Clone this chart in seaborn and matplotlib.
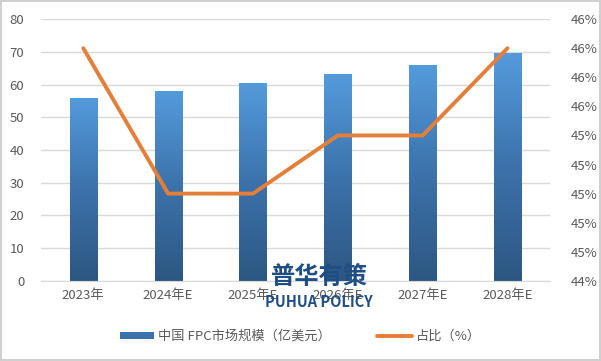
import numpy as np
import matplotlib
matplotlib.use("Agg")
import matplotlib.pyplot as plt
import seaborn as sns
from matplotlib.colors import LinearSegmentedColormap
from matplotlib.patches import Patch
from matplotlib.lines import Line2D

# data
years = ["2023年", "2024年E", "2025年E", "2026年E", "2027年E", "2028年E"]
market_size = [56.0, 58.0, 60.5, 63.2, 66.0, 69.6]   # 亿美元
share = [46.0, 45.0, 45.0, 45.4, 45.4, 46.0]         # %

sns.set_style("white")
plt.rcParams['font.family'] = ['Noto Sans CJK SC', 'DejaVu Sans']

text_gray = "#595959"
grid_gray = "#D9D9D9"
orange = "#E47F3A"

fig = plt.figure(figsize=(6.01, 3.61), dpi=100)
fig.patch.set_edgecolor("#D0D0D0")
fig.patch.set_linewidth(1.5)
ax = fig.add_axes([0.068, 0.222, 0.847, 0.725])

sns.barplot(x=years, y=market_size, ax=ax, width=0.32, color="#4A88C8", zorder=2)

# gradient fill for bars
cmap = LinearSegmentedColormap.from_list("bar", ["#2D5782", "#3C72AB", "#549BDC"])
grad = np.linspace(0, 1, 256).reshape(-1, 1)
for p in ax.patches:
    x0, y0 = p.get_x(), p.get_y()
    w, h = p.get_width(), p.get_height()
    p.set_facecolor("none")
    p.set_edgecolor("none")
    im = ax.imshow(grad, extent=[x0, x0 + w, y0, y0 + h], origin="lower",
                   aspect="auto", cmap=cmap, zorder=2)
    im.set_clip_path(p)

ax.set_xlim(-0.5, 5.5)
ax.set_ylim(0, 80)
ax.set_yticks(range(0, 81, 10))
ax.yaxis.grid(True, color=grid_gray, linewidth=1)
ax.set_axisbelow(True)
for s in ["top", "left", "right"]:
    ax.spines[s].set_visible(False)
ax.spines["bottom"].set_color(grid_gray)
ax.tick_params(axis="both", length=0, labelsize=9.5, colors=text_gray, pad=6)
ax.tick_params(axis="y", pad=12)
ax.set_xlabel("")
ax.set_ylabel("")

ax2 = ax.twinx()
sns.lineplot(x=np.arange(len(years)), y=share, ax=ax2, color=orange,
             linewidth=2.8, zorder=3)
ax2.set_ylim(44.4, 46.2)
ax2.set_yticks(np.arange(44.4, 46.21, 0.2))
ax2.set_yticklabels([f"{v:.0f}%" for v in np.arange(44.4, 46.21, 0.2)])
ax2.tick_params(axis="y", length=0, labelsize=9.5, colors=text_gray, pad=15)
for s in ["top", "left", "right", "bottom"]:
    ax2.spines[s].set_visible(False)
ax2.set_ylabel("")

# watermark
fig.text(0.531, 0.233, "普华有策", fontsize=17.5, fontweight="bold",
         color="#1F4E85", ha="center", va="center", zorder=10)
fig.text(0.531, 0.163, "PUHUA POLICY", fontsize=10.5, fontweight="bold",
         color="#1F4E85", ha="center", va="center", zorder=10)

handles = [Patch(facecolor="#3C72AB", edgecolor="none"),
           Line2D([0], [0], color=orange, linewidth=2.8)]
fig.legend(handles, ["中国 FPC市场规模（亿美元）", "占比（%）"],
           loc="center", bbox_to_anchor=(0.5, 0.068), ncol=2, frameon=False,
           fontsize=9.5, labelcolor=text_gray, handlelength=2.6, handleheight=0.5,
           columnspacing=3.5, handletextpad=0.3)

fig.savefig("out.png", dpi=100)
